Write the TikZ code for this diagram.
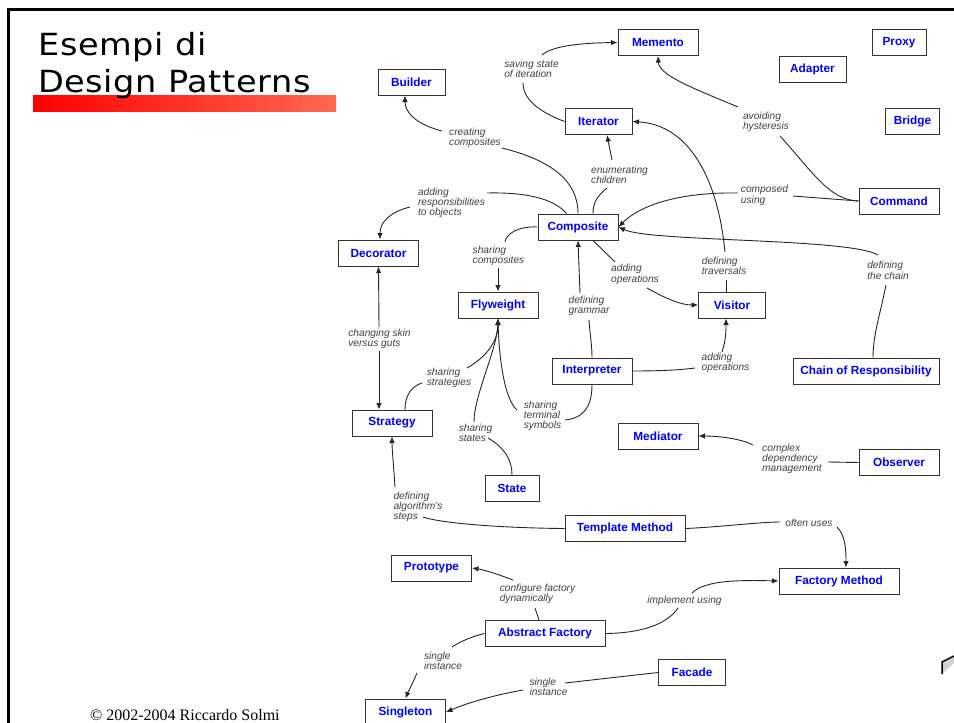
\documentclass[tikz,border=0pt]{standalone}
\usepackage{fontspec}
\newfontfamily\helv{Liberation Sans}
\newfontfamily\titlefont[LetterSpace=2,FakeStretch=1.1]{DejaVu Sans}
\newfontfamily\copyfont{Liberation Serif}
\usetikzlibrary{arrows.meta,calc}
\definecolor{pblue}{RGB}{0,0,255}
\definecolor{barend}{RGB}{255,105,80}
\tikzset{
  pat/.style={draw=black!80, line width=1pt, fill=white, minimum height=26pt, inner sep=0pt,
    font=\helv\bfseries\fontsize{11.8}{13}\selectfont, text=pblue},
  lbl/.style={font=\helv\itshape\fontsize{10.2}{10.3}\selectfont, text=black!75, align=left, inner sep=0pt},
  conn/.style={draw=black!85, line width=0.9pt},
  arr/.style={-{Latex[length=6.5pt,width=5.5pt]}},
}
\begin{document}
\begin{tikzpicture}[x=1pt,y=-1pt]
\useasboundingbox (0,0) rectangle (954,723);
% frame
\draw[line width=3pt] (8.5,723) -- (8.5,9) -- (954,9);
% title
\shade[left color=red, right color=barend] (33,95) rectangle (336,111.5);
\node[anchor=base west, inner sep=0pt, font=\titlefont\fontsize{30.5}{36}\selectfont] (title1) at (38,55) {Esempi di};
\node[anchor=base west, inner sep=0pt, font=\titlefont\fontsize{30.5}{36}\selectfont] (title2) at (38,92) {Design Patterns};
% copyright
\node[anchor=base west, inner sep=0pt, font=\copyfont\fontsize{16}{18}\selectfont] (copy) at (90,720) {© 2002-2004 Riccardo Solmi};
% decoration at right edge
\fill[gray!35] (942,662) -- (954,656) -- (954,663) -- (942,674) -- cycle;
\draw[line width=1.5pt] (942,674) -- (942,662) -- (954,656);

% pattern boxes
\node[pat,minimum width=80pt] (memento) at (658,42.5) {Memento};
\node[pat,minimum width=54pt] (proxy) at (899,42.5) {Proxy};
\node[pat,minimum width=67pt] (adapter) at (812.5,69) {Adapter};
\node[pat,minimum width=67pt] (builder) at (411.5,82) {Builder};
\node[pat,minimum width=67pt] (iterator) at (598.5,121.5) {Iterator};
\node[pat,minimum width=54pt] (bridge) at (912.5,121.5) {Bridge};
\node[pat,minimum width=80pt] (command) at (899,201) {Command};
\node[pat,minimum width=80pt] (composite) at (578,227) {Composite};
\node[pat,minimum width=80pt] (decorator) at (378.5,253) {Decorator};
\node[pat,minimum width=80pt] (flyweight) at (498,305) {Flyweight};
\node[pat,minimum width=67pt] (visitor) at (732,305) {Visitor};
\node[pat,minimum width=80pt] (interpreter) at (592,371) {Interpreter};
\node[pat,minimum width=146pt] (chain) at (866,371) {Chain of Responsibility};
\node[pat,minimum width=80pt] (strategy) at (392,423) {Strategy};
\node[pat,minimum width=80pt] (mediator) at (658,436) {Mediator};
\node[pat,minimum width=80pt] (observer) at (899,462.5) {Observer};
\node[pat,minimum width=54pt] (state) at (512,488.5) {State};
\node[pat,minimum width=120pt] (template) at (625,528.5) {Template Method};
\node[pat,minimum width=80pt] (prototype) at (431.5,568) {Prototype};
\node[pat,minimum width=120pt] (factory) at (839,581) {Factory Method};
\node[pat,minimum width=120pt] (absfac) at (545,633.5) {Abstract Factory};
\node[pat,minimum width=67pt] (facade) at (692,672.5) {Facade};
\node[pat,minimum width=80pt] (singleton) at (405.5,712) {Singleton};

% labels
\node[lbl] (l1) at (531.5,69) {saving state\\of iteration};
\node[lbl] (l2) at (766,122) {avoiding\\hysteresis};
\node[lbl] (l3) at (764.5,195.5) {composed\\using};
\node[lbl] (l4) at (888,270.5) {defining\\the chain};
\node[lbl] (l5) at (724,266) {defining\\traversals};
\node[lbl] (l6) at (619.5,175) {enumerating\\children};
\node[lbl] (l7) at (475,138) {creating\\composites};
\node[lbl] (l8) at (451.5,203) {adding\\responsibilities\\to objects};
\node[lbl] (l9) at (498.5,256) {sharing\\composites};
\node[lbl] (l10) at (635,274.5) {adding\\operations};
\node[lbl] (l11) at (589,306) {defining\\grammar};
\node[lbl] (l12) at (725.5,363) {adding\\operations};
\node[lbl] (l13) at (449,378) {sharing\\strategies};
\node[lbl] (l14) at (475.5,433) {sharing\\states};
\node[lbl] (l15) at (542.5,416) {sharing\\terminal\\symbols};
\node[lbl] (l16) at (379.5,339) {changing skin\\versus guts};
\node[lbl] (l17) at (418,507) {defining\\algorithm's\\steps};
\node[lbl] (l18) at (809,523) {often uses};
\node[lbl] (l19) at (792,459) {complex\\dependency\\management};
\node[lbl] (l20) at (537.5,594) {configure factory\\dynamically};
\node[lbl] (l21) at (684.5,601) {implement using};
\node[lbl] (l22) at (443,660.5) {single\\instance};
\node[lbl] (l23) at (548.5,687) {single\\instance};

% connectors
\draw[conn] ($(l1)+(-8.5,14)$) .. controls (523,102) and (545,114) .. (iterator.west);
\draw[conn,arr] ($(l1)+(10.5,-14)$) .. controls (552,46) and (580,43) .. (memento.west);

\draw[conn,arr] ($(l2)+(-28,-15)$) .. controls (690,87) and (659,75) .. (memento.south);
\draw[conn] ($(l2)+(14,14)$) .. controls (815,175) and (830,200) .. (command.west);

\draw[conn] (command.west) -- ($(l3)+(28.5,0.5)$);
\draw[conn,arr] ($(l3)+(-26.5,-2.5)$) .. controls (680,192) and (640,205) .. (composite.east);

\draw[conn,arr] ($(l4)+(-10,-15.5)$) .. controls (850,238) and (650,242) .. (composite.east);
\draw[conn] ($(l4)+(-2,14.5)$) .. controls (880,315) and (873,335) .. ($(chain.north)+(7,0)$);

\draw[conn] ($(l5)+(2,14)$) -- ($(visitor.north)+(-6,0)$);
\draw[conn,arr] ($(l5)+(1,-14)$) .. controls (718,180) and (690,125) .. (iterator.east);

\draw[conn,arr] ($(l6)+(-7.5,-15)$) -- ($(iterator.south)+(8.5,0)$);
\draw[conn] ($(l6)+(-12.5,13)$) .. controls (597,196) and (593,203) .. ($(composite.north)+(15,0)$);

\draw[conn,arr] ($(l7)+(-33,-7)$) .. controls (415,124) and (405,112) .. ($(builder.south)+(-6.5,0)$);
\draw[conn] ($(l7)+(27,10)$) .. controls (550,160) and (578,180) .. (composite.north);

\draw[conn] ($(l8)+(35.5,-10)$) .. controls (530,192) and (555,200) .. ($(composite.north west)+(29,0)$);
\draw[conn,arr] ($(l8)+(-41.5,4)$) .. controls (390,212) and (380,222) .. ($(decorator.north)+(1.5,0)$);

\draw[conn] (composite.west) .. controls (518,226) and (506,234) .. ($(l9)+(6.5,-14)$);
\draw[conn,arr] ($(l9)+(-0.5,12)$) -- (flyweight.north);

\draw[conn] ($(composite.south)+(15,0)$) -- ($(l10)+(-20,-12.5)$);
\draw[conn,arr] ($(l10)+(12,13.5)$) .. controls (665,298) and (680,305) .. (visitor.west);

\draw[conn,arr] ($(l11)+(-9,-13)$) -- (composite.south);
\draw[conn] ($(l11)+(0,14)$) .. controls (590,335) and (592,345) .. (interpreter.north);

\draw[conn] (interpreter.east) .. controls (660,371) and (680,370) .. ($(l12)+(-30.5,5)$);
\draw[conn,arr] ($(l12)+(-3.5,-11)$) .. controls (726,340) and (726,330) .. ($(visitor.south)+(-6,0)$);

\draw[conn] ($(strategy.north)+(13,0)$) .. controls (405,395) and (412,386) .. ($(l13)+(-27,5)$);
\draw[conn,arr] ($(l13)+(18,-10)$) .. controls (488,356) and (498,340) .. (flyweight.south);

\draw[conn] ($(l14)+(12.5,5)$) .. controls (505,448) and (512,460) .. (state.north);
\draw[conn,arr] ($(l14)+(-1.5,-11)$) .. controls (474,395) and (497,350) .. (flyweight.south);

\draw[conn,arr] ($(l15)+(-25.5,-6)$) .. controls (505,400) and (499,360) .. (flyweight.south);
\draw[conn] ($(l15)+(22.5,4)$) .. controls (585,418) and (592,405) .. (interpreter.south);

\draw[conn,arr] ($(l16.north)+(-0.5,-2)$) -- (decorator.south);
\draw[conn,arr] ($(l16.south)+(-0.5,2)$) -- ($(strategy.north)+(-13,0)$);

\draw[conn,arr] ($(l17)+(-23,-20)$) .. controls (394,470) and (392,450) .. (strategy.south);
\draw[conn] ($(l17)+(5,10)$) .. controls (440,523) and (500,528) .. (template.west);

\draw[conn] (template.east) .. controls (720,527) and (760,522) .. ($(l18)+(-29,-1)$);
\draw[conn,arr] ($(l18)+(28,4)$) .. controls (845,535) and (846,548) .. ($(factory.north)+(7,0)$);

\draw[conn,arr] ($(l19)+(-39,-14)$) .. controls (740,438) and (715,436) .. (mediator.east);
\draw[conn] (observer.west) -- ($(l19)+(36,3)$);

\draw[conn,arr] ($(l20)+(-24.5,-14)$) .. controls (500,575) and (485,570) .. (prototype.east);
\draw[conn] ($(l20)+(-2.5,14)$) -- ($(absfac.north)+(-6,0)$);

\draw[conn] (absfac.east) .. controls (650,633) and (670,620) .. ($(l21)+(-6.5,7)$);
\draw[conn,arr] ($(l21)+(7.5,-8)$) .. controls (705,580) and (740,580) .. (factory.west);

\draw[conn] (absfac.west) .. controls (470,637) and (460,642) .. ($(l22)+(9,-13.5)$);
\draw[conn,arr] ($(l22)+(-26,12.5)$) .. controls (412,685) and (408,692) .. (singleton.north);

\draw[conn] (facade.west) -- ($(l23)+(16.5,-4)$);
\draw[conn,arr] ($(l23)+(-25.5,3)$) .. controls (495,695) and (470,702) .. (singleton.east);
\end{tikzpicture}
\end{document}
